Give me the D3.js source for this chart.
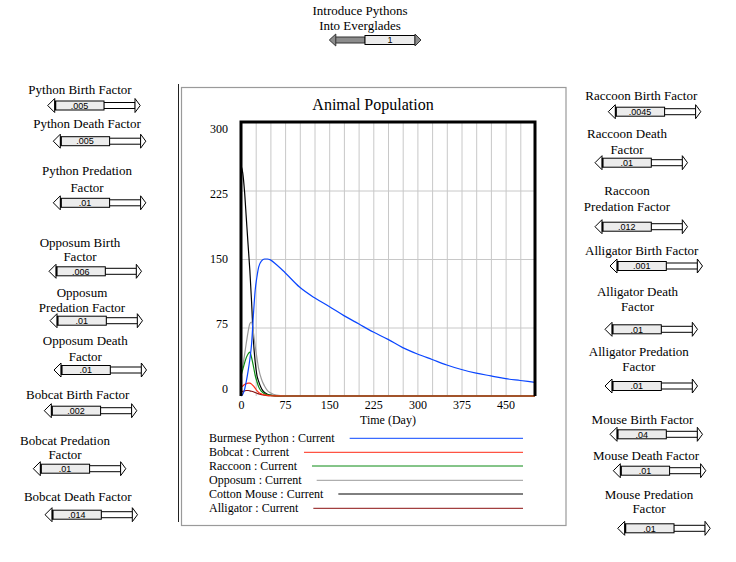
<!DOCTYPE html>
<html><head><meta charset="utf-8">
<script src="https://cdn.jsdelivr.net/npm/d3@7/dist/d3.min.js"></script>
<style>
html,body{margin:0;padding:0;background:#fff;}
svg{display:block;}
text{font-family:"Liberation Serif","Times New Roman",serif;fill:#000;}
.val{font-family:"Liberation Sans",Arial,sans-serif;font-size:9px;}
</style></head>
<body>
<svg id="c" width="736" height="562"></svg>
<script>
// ---------- DATA ----------
const time      = [0,3,6,9,12,15,18,21,24,27,30,35,40,45,50,60,75,100,125,150,175,200,225,250,275,300,325,350,375,400,425,450,475,500];
const python    = [0,2,7,16,27,40,57,88,115,130,141,148,150,150,149,144,135,119,107.5,98,88,79,70,62,53,46,40,34,29,25,22,19,17,15];
const bobcat    = [10,11,12.5,13.5,14,14,13,11,8.5,6,4,2.2,1.2,0.6,0.3,0.1,0,0,0,0,0,0,0,0,0,0,0,0,0,0,0,0,0,0];
const raccoon   = [22,29,36,42,46,48,42,33,23,16,10,5,2.5,1.2,0.6,0.2,0,0,0,0,0,0,0,0,0,0,0,0,0,0,0,0,0,0];
const opossum   = [26,33,45,58,70,79,81,70,55,42,30,18,11,6,3.5,1,0.2,0,0,0,0,0,0,0,0,0,0,0,0,0,0,0,0,0];
const mouse     = [252,244,224,195,166,138,103,62,38,23,16,8,4,2,1,0.3,0,0,0,0,0,0,0,0,0,0,0,0,0,0,0,0,0,0];
const alligator = [4,5,5.5,6,6,5.7,5.2,4.6,3.8,3,2.3,1.5,0.9,0.5,0.3,0.1,0,0,0,0,0,0,0,0,0,0,0,0,0,0,0,0,0,0];

const seriesNames  = ["Burmese Python : Current","Bobcat : Current","Raccoon : Current","Opposum : Current","Cotton Mouse : Current","Alligator : Current"];
const seriesValues = [python, bobcat, raccoon, opossum, mouse, alligator];
const seriesColors = ["#0a46ff","#ff2a14","#0a8a12","#9a9a9a","#000000","#8b1010"];

const xTicks = [0,75,150,225,300,375,450];
const yTicks = [0,75,150,225,300];

// slider labels / values
const leftLabels  = [["Python Birth Factor"],["Python Death Factor"],["Python Predation","Factor"],["Opposum Birth","Factor"],["Opposum","Predation Factor"],["Opposum Death","Factor"],["Bobcat Birth Factor"],["Bobcat Predation","Factor"],["Bobcat Death Factor"]];
const leftValues  = [".005",".005",".01",".006",".01",".01",".002",".01",".014"];
const rightLabels = [["Raccoon Birth Factor"],["Raccoon Death","Factor"],["Raccoon","Predation Factor"],["Alligator Birth Factor"],["Alligator Death","Factor"],["Alligator Predation","Factor"],["Mouse Birth Factor"],["Mouse Death Factor"],["Mouse Predation","Factor"]];
const rightValues = [".0045",".01",".012",".001",".01",".01",".04",".01",".01"];
const topLabel = ["Introduce Pythons","Into Everglades"];
const topValue = "1";

// ---------- LAYOUT ----------
const leftLayout = [
  {cx:80, ly:[89.5], sx:47.7, sy:105.5},
  {cx:87, ly:[123.5], sx:53.3, sy:141.2},
  {cx:87, ly:[170.7,187.3], sx:53.3, sy:202.8},
  {cx:80, ly:[242.3,256.7], sx:49, sy:271.3},
  {cx:82, ly:[292,307.3], sx:50, sy:320.7},
  {cx:85.3, ly:[340,356], sx:54, sy:370},
  {cx:77.7, ly:[394], sx:44.3, sy:410.7},
  {cx:65, ly:[440,454], sx:33.3, sy:468.7},
  {cx:77.7, ly:[496.7], sx:45, sy:514.7}
];
const rightLayout = [
  {cx:641.3, ly:[95], sx:608.3, sy:111.7},
  {cx:627, ly:[133.3,149], sx:595, sy:162.7},
  {cx:627, ly:[190,206], sx:595, sy:226.7},
  {cx:641.7, ly:[250], sx:610, sy:266},
  {cx:637.5, ly:[291.7,306], sx:605, sy:329.3},
  {cx:638.8, ly:[351.7,366.7], sx:605, sy:386},
  {cx:642.5, ly:[419], sx:610, sy:434.3},
  {cx:646, ly:[455], sx:613.3, sy:470.7},
  {cx:649, ly:[494,508.3], sx:617.7, sy:528.3}
];

const svg = d3.select("#c");

function labelLines(g, lines, cx, ys){
  lines.forEach((t,i)=>{
    g.append("text").attr("x",cx).attr("y",ys[i]+4.5).attr("text-anchor","middle")
     .attr("font-size","13px").text(t);
  });
}
function slider(g, lx, cy, val){
  const s = g.append("g");
  s.append("path").attr("d",`M${lx},${cy} L${lx+7},${cy-7} L${lx+7},${cy+7} Z`)
   .attr("fill","#fff").attr("stroke","#000").attr("stroke-width",1);
  s.append("rect").attr("x",lx+56).attr("y",cy-3).attr("width",31.5).attr("height",6)
   .attr("fill","#fff").attr("stroke","#000").attr("stroke-width",1);
  s.append("path").attr("d",`M${lx+87.3},${cy-7} L${lx+92.5},${cy} L${lx+87.3},${cy+7} Z`)
   .attr("fill","#fff").attr("stroke","#000").attr("stroke-width",1);
  s.append("rect").attr("x",lx+7.3).attr("y",cy-4.5).attr("width",49).attr("height",9)
   .attr("fill","#ececec").attr("stroke","#000").attr("stroke-width",1);
  s.append("line").attr("x1",lx+7.8).attr("x2",lx+7.8).attr("y1",cy-4.5).attr("y2",cy+4.5)
   .attr("stroke","#000").attr("stroke-width",1.5);
  s.append("text").attr("class","val").attr("x",lx+31.8).attr("y",cy+3.2)
   .attr("text-anchor","middle").text(val);
}

leftLayout.forEach((L,i)=>{ labelLines(svg, leftLabels[i], L.cx, L.ly); slider(svg, L.sx, L.sy, leftValues[i]); });
rightLayout.forEach((L,i)=>{ labelLines(svg, rightLabels[i], L.cx, L.ly); slider(svg, L.sx, L.sy, rightValues[i]); });

// top slider (at maximum position)
labelLines(svg, topLabel, 360, [10,25]);
(function(){
  const lx=329.3, cy=40;
  svg.append("rect").attr("x",335).attr("y",cy-3).attr("width",30).attr("height",6)
     .attr("fill","#8c8c8c").attr("stroke","#333").attr("stroke-width",1);
  svg.append("path").attr("d",`M${lx},${cy} L${lx+6.5},${cy-6} L${lx+6.5},${cy+6} Z`)
     .attr("fill","#8c8c8c").attr("stroke","#333").attr("stroke-width",1);
  svg.append("rect").attr("x",365).attr("y",cy-4.5).attr("width",50).attr("height",9)
     .attr("fill","#ececec").attr("stroke","#000").attr("stroke-width",1);
  svg.append("path").attr("d",`M415,${cy-6} L421,${cy} L415,${cy+6} Z`)
     .attr("fill","#8c8c8c").attr("stroke","#333").attr("stroke-width",1);
  svg.append("text").attr("class","val").attr("x",390).attr("y",cy+3.2).attr("text-anchor","middle").text(topValue);
})();

// ---------- CHART PANEL ----------
svg.append("line").attr("x1",178.5).attr("x2",178.5).attr("y1",84).attr("y2",522).attr("stroke","#222").attr("stroke-width",1);
svg.append("rect").attr("x",181.5).attr("y",87.5).attr("width",384.5).attr("height",438)
   .attr("fill","#fff").attr("stroke","#9a9a9a").attr("stroke-width",1.2);

svg.append("text").attr("x",373).attr("y",110).attr("text-anchor","middle").attr("font-size","16px").text("Animal Population");

const x = d3.scaleLinear().domain([0,500]).range([241,535]);
const y = d3.scaleLinear().domain([0,300]).range([396,122]);
const yl = d3.scaleLinear().domain([0,300]).range([389,129]); // label placement

// gridlines
svg.append("g").attr("transform",`translate(0,396)`)
  .call(d3.axisBottom(x).tickValues(d3.range(0,501,25)).tickSize(-274).tickFormat(""))
  .call(g=>{g.select(".domain").remove(); g.selectAll("line").attr("stroke","#c8c8c8").attr("stroke-width",1);});
svg.append("g").attr("transform",`translate(241,0)`)
  .call(d3.axisLeft(y).tickValues([75,150,225]).tickSize(-294).tickFormat(""))
  .call(g=>{g.select(".domain").remove(); g.selectAll("line").attr("stroke","#c8c8c8").attr("stroke-width",1);});

// series (drawn in reverse so python on top)
const line = d3.line().x((d,i)=>x(time[i])).y(d=>y(d)).curve(d3.curveMonotoneX);
for(let k=seriesValues.length-1;k>=0;k--){
  svg.append("path").datum(seriesValues[k]).attr("d",line).attr("fill","none")
     .attr("stroke",seriesColors[k]).attr("stroke-width",1.2);
}

// frame
svg.append("path").attr("d",`M${x(0)},${y(0)} L${x(0)},${y(300)} L${x(500)},${y(300)} L${x(500)},${y(0)}`)
   .attr("fill","none").attr("stroke","#000").attr("stroke-width",3);

// axis labels
svg.append("g").attr("transform","translate(0,400)")
  .call(d3.axisBottom(x).tickValues(xTicks).tickSize(0).tickPadding(0))
  .call(g=>{g.select(".domain").remove(); g.selectAll("text").attr("font-size","12px").attr("font-family","Liberation Serif, serif").attr("dy","0.71em");});
svg.append("g").attr("transform","translate(228,0)")
  .call(d3.axisLeft(yl).tickValues(yTicks).tickSize(0).tickPadding(0))
  .call(g=>{g.select(".domain").remove(); g.selectAll("text").attr("font-size","12px").attr("font-family","Liberation Serif, serif");});
svg.append("text").attr("x",388).attr("y",424).attr("text-anchor","middle").attr("font-size","12px").text("Time (Day)");

// legend
const legY = [438.3,452.3,466,480.3,494,508.3];
seriesNames.forEach((n,i)=>{
  const t = svg.append("text").attr("x",209).attr("y",legY[i]+4).attr("font-size","12px").text(n);
  const w = t.node().getComputedTextLength();
  svg.append("line").attr("x1",209+w+15).attr("x2",523).attr("y1",legY[i]).attr("y2",legY[i])
     .attr("stroke",seriesColors[i]).attr("stroke-width",1);
});
</script>
</body></html>
